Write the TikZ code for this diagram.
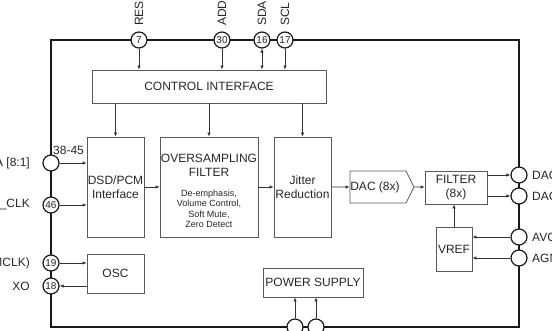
\documentclass[tikz,border=0pt]{standalone}
\usepackage{fontspec}
\setmainfont{Liberation Sans}
\usetikzlibrary{shapes.symbols,arrows.meta,positioning}

\tikzset{
  blk/.style={draw=black!65, line width=0.8pt, inner sep=0pt, align=center, text=black!85,
    font=\fontsize{12}{14.5}\selectfont},
  pin/.style={circle, draw=black!90, line width=1.2pt, fill=white, minimum size=16pt, inner sep=0pt,
    text=black!85, font=\fontsize{10}{10}\selectfont},
  lbl/.style={text=black!85, inner sep=0pt, font=\fontsize{12}{12}\selectfont},
  arr/.style={-{Latex[length=4pt,width=3.4pt]}, line width=0.6pt, draw=black!80},
}

\begin{document}
\begin{tikzpicture}[x=1pt, y=-1pt]
  \useasboundingbox (0,0) rectangle (552,331);

  % chip outline
  \draw[line width=1.4pt, black!90] (51,40) rectangle (519,327);

  % blocks
  \node[blk, minimum width=234pt, minimum height=33pt] (ctrl) at (209,86.5) {CONTROL INTERFACE};
  \node[blk, minimum width=57pt, minimum height=100pt] (dsd) at (115.5,187) {DSD/PCM\\Interface};
  \node[blk, minimum width=98pt, minimum height=100pt] (osf) at (209,187) {};
  \node[text=black!85, align=center, inner sep=0pt, font=\fontsize{12}{14}\selectfont] (osftitle) at (209,165)
    {OVERSAMPLING\\FILTER};
  \node[text=black!85, align=center, inner sep=0pt, font=\fontsize{9}{10.5}\selectfont] (osfnote) at (209,209)
    {De-emphasis,\\Volume Control,\\Soft Mute,\\Zero Detect};
  \node[blk, minimum width=57pt, minimum height=100pt] (jit) at (302.5,187) {Jitter\\Reduction};
  \node[blk, signal, signal to=east, signal pointer angle=127, minimum width=64pt, minimum height=32pt] (dac) at (378,187) {DAC (8x)\hspace*{6pt}};
  \node[blk, minimum width=62pt, minimum height=33pt] (filt) at (456,187.5) {FILTER\\(8x)};
  \node[blk, minimum width=36pt, minimum height=44pt] (vref) at (454,249) {VREF};
  \node[blk, minimum width=57pt, minimum height=39pt] (osc) at (115.5,273.5) {OSC};
  \node[blk, minimum width=100pt, minimum height=29pt] (pwr) at (313,282.5) {POWER SUPPLY};

  % pins
  \node[pin] (p7) at (139,40) {7};
  \node[pin] (p30) at (222,40) {30};
  \node[pin] (p16) at (262,40) {16};
  \node[pin] (p17) at (285,40) {17};
  \node[pin] (pdata) at (51,163) {};
  \node[pin] (p46) at (51,205) {46};
  \node[pin] (p19) at (51,263) {19};
  \node[pin] (p18) at (51,286) {18};
  \node[pin] (pdacl) at (519,175) {};
  \node[pin] (pdacr) at (519,196) {};
  \node[pin] (pavcc) at (519,237) {};
  \node[pin] (pagnd) at (519,258) {};
  \node[pin] (pvdd) at (295,327) {};
  \node[pin] (pgnd) at (316,327) {};

  % pin names
  \node[lbl, rotate=90, anchor=west] (nrst) at (139,26) {RESET};
  \node[lbl, rotate=90, anchor=west] (nadd) at (222,26) {ADD};
  \node[lbl, rotate=90, anchor=west] (nsda) at (262,26) {SDA};
  \node[lbl, rotate=90, anchor=west] (nscl) at (285,26) {SCL};
  \node[lbl, anchor=west] (ndpin) at (53,150) {38-45};
  \node[lbl, anchor=east] (ndata) at (30,163) {DATA [8:1]};
  \node[lbl, anchor=east] (nclk) at (30,205) {BIT\_CLK};
  \node[lbl, anchor=east] (nxi) at (30,263) {XI (MCLK)};
  \node[lbl, anchor=east] (nxo) at (30,286) {XO};
  \node[lbl, anchor=west] (ndacl) at (532,175) {DACL};
  \node[lbl, anchor=west] (ndacr) at (532,196) {DACR};
  \node[lbl, anchor=west] (navcc) at (532,237) {AVCC};
  \node[lbl, anchor=west] (nagnd) at (532,258) {AGND};

  % control lines
  \draw[arr] (p7) -- (p7 |- ctrl.north);
  \draw[arr] (p30) -- (p30 |- ctrl.north);
  \draw[{Latex[length=4pt,width=3.4pt]}-{Latex[length=4pt,width=3.4pt]}, line width=0.6pt, black!80] (p16) -- (p16 |- ctrl.north);
  \draw[arr] (p17) -- (p17 |- ctrl.north);
  \draw[arr] (dsd |- ctrl.south) -- (dsd.north);
  \draw[arr] (osf |- ctrl.south) -- (osf.north);
  \draw[arr] (jit |- ctrl.south) -- (jit.north);

  % signal path
  \draw[arr] (pdata) -- (pdata -| dsd.west);
  \draw[arr] (p46) -- (p46 -| dsd.west);
  \draw[arr] (dsd) -- (osf);
  \draw[arr] (osf) -- (jit);
  \draw[arr] (jit) -- (dac);
  \draw[arr] (dac) -- (dac -| filt.west);
  \draw[arr] (pdacl -| filt.east) -- (pdacl);
  \draw[arr] (pdacr -| filt.east) -- (pdacr);
  \draw[arr] (vref.north) -- (vref.north |- filt.south);
  \draw[arr] (pavcc) -- (pavcc -| vref.east);
  \draw[arr] (pagnd) -- (pagnd -| vref.east);

  % clock and supply
  \draw[arr] (p19) -- (p19 -| osc.west);
  \draw[arr] (p18 -| osc.west) -- (p18);
  \draw[arr] (pvdd) -- (pvdd |- pwr.south);
  \draw[arr] (pgnd) -- (pgnd |- pwr.south);
\end{tikzpicture}
\end{document}
